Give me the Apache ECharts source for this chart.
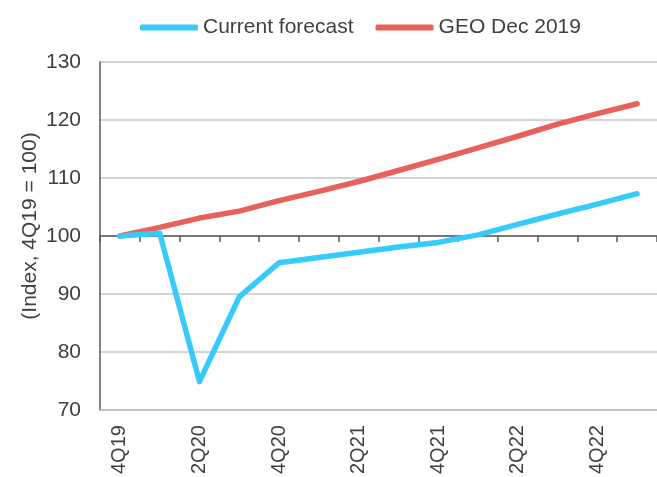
<!DOCTYPE html>
<html>
<head>
<meta charset="utf-8">
<script src="https://cdn.jsdelivr.net/npm/echarts@6/dist/echarts.min.js"></script>
<style>html,body{margin:0;padding:0;background:#fff}#c{width:657px;height:477px}</style>
</head>
<body>
<div id="c"></div>
<script>
var categories = ['4Q19','1Q20','2Q20','3Q20','4Q20','1Q21','2Q21','3Q21','4Q21','1Q22','2Q22','3Q22','4Q22','1Q23'];
var currentForecast = [100, 100.5, 74.9, 89.5, 95.4, 96.3, 97.2, 98.1, 98.9, 100.2, 102.0, 103.8, 105.5, 107.3];
var geoDec2019 = [100, 101.5, 103.1, 104.3, 106.1, 107.7, 109.4, 111.3, 113.2, 115.2, 117.2, 119.3, 121.1, 122.8];
var yTicks = [70, 80, 90, 100, 110, 120, 130];
var BASE = 100;

var font = 'Liberation Sans, Arial, sans-serif';
var chart = echarts.init(document.getElementById('c'), null, {renderer: 'canvas'});
function shift(arr) { return arr.map(function (v) { return v - BASE; }); }
chart.setOption({
  animation: false,
  backgroundColor: '#fff',
  grid: {left: 100, right: 0, top: 62, bottom: 65, containLabel: false},
  legend: {
    top: 12, left: 135, itemWidth: 58, itemHeight: 6, itemGap: 22,
    textStyle: {fontFamily: font, fontSize: 21, color: '#404040'},
    data: [{name: 'Current forecast', icon: 'roundRect'}, {name: 'GEO Dec 2019', icon: 'roundRect'}]
  },
  graphic: [{
    type: 'text', x: 30, y: 226, rotation: Math.PI / 2,
    style: {text: '(Index, 4Q19 = 100)', fontFamily: font, fontSize: 21, fill: '#404040',
      align: 'center', verticalAlign: 'middle'}
  }],
  xAxis: [{
    type: 'category', data: categories, boundaryGap: true, position: 'bottom',
    axisLine: {onZero: true, lineStyle: {color: '#595959', width: 1.5}},
    axisTick: {show: true, interval: 0, length: 6, lineStyle: {color: '#595959', width: 1.5}},
    axisLabel: {show: false}, splitLine: {show: false}
  }, {
    type: 'category', data: categories, boundaryGap: true, position: 'bottom',
    axisLine: {onZero: false, lineStyle: {color: '#bfbfbf', width: 1.5}},
    axisTick: {show: false},
    axisLabel: {interval: 1, rotate: 90, margin: 15, fontFamily: font, fontSize: 20, color: '#404040'},
    splitLine: {show: false}
  }],
  yAxis: {
    type: 'value', min: yTicks[0] - BASE, max: yTicks[yTicks.length - 1] - BASE, interval: 10,
    axisLine: {show: true, lineStyle: {color: '#595959', width: 1.5}},
    axisTick: {show: false},
    axisLabel: {margin: 19, fontFamily: font, fontSize: 21, color: '#404040',
      formatter: function (v) { return String(v + BASE); }},
    splitLine: {show: true, lineStyle: {color: '#c4c4c4', width: 1.5}}
  },
  series: [{
    name: 'Current forecast', type: 'line', data: shift(currentForecast), xAxisIndex: 0,
    symbol: 'none', smooth: false, z: 3,
    lineStyle: {color: '#36cbfb', width: 5.5, cap: 'round', join: 'round'},
    itemStyle: {color: '#36cbfb'}
  }, {
    name: 'GEO Dec 2019', type: 'line', data: shift(geoDec2019), xAxisIndex: 0,
    symbol: 'none', smooth: false, z: 2,
    lineStyle: {color: '#e8615a', width: 5.5, cap: 'round', join: 'round'},
    itemStyle: {color: '#e8615a'}
  }]
});
</script>
</body>
</html>
